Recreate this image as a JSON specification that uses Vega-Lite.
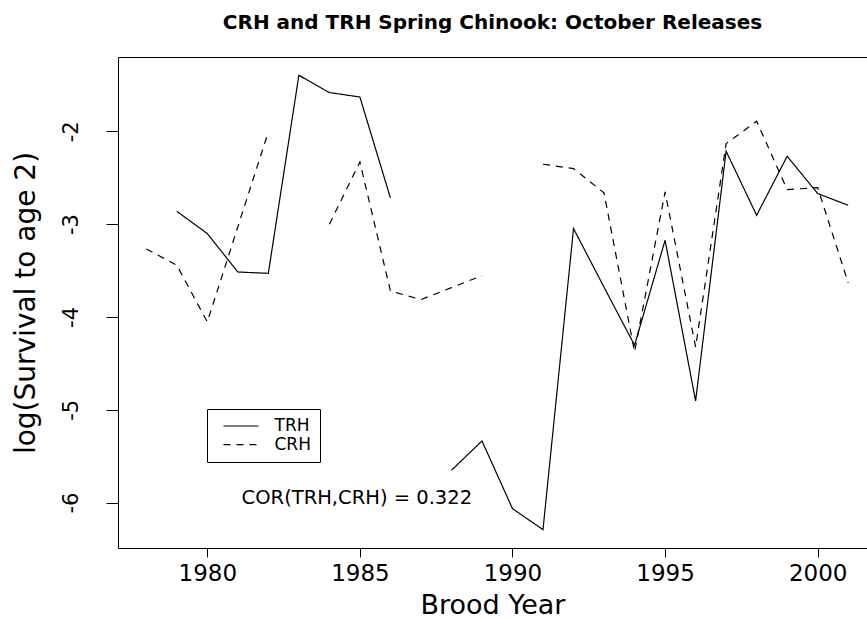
{
  "$schema": "https://vega.github.io/schema/vega-lite/v6.json",
  "width": 749,
  "height": 491,
  "autosize": {"type": "none"},
  "padding": {"left": 118, "top": 57, "right": 0, "bottom": 71},
  "background": "white",
  "config": {
    "view": {"stroke": null},
    "font": "DejaVu Sans",
    "axis": {
      "grid": false,
      "domainColor": "black",
      "tickColor": "black",
      "labelColor": "black",
      "titleColor": "black",
      "domainWidth": 1,
      "tickWidth": 1,
      "labelFont": "DejaVu Sans",
      "titleFont": "DejaVu Sans",
      "titleFontWeight": "normal"
    }
  },
  "title": {
    "text": "CRH and TRH Spring Chinook: October Releases",
    "font": "DejaVu Sans",
    "fontSize": 20,
    "fontWeight": "bold",
    "color": "black",
    "anchor": "middle",
    "frame": "group",
    "baseline": "alphabetic",
    "offset": 8
  },
  "layer": [
    {
      "data": {
        "values": [
          {"series": "TRH", "seg": "T1", "year": 1979, "value": -2.862},
          {"series": "TRH", "seg": "T1", "year": 1980, "value": -3.102},
          {"series": "TRH", "seg": "T1", "year": 1981, "value": -3.516},
          {"series": "TRH", "seg": "T1", "year": 1982, "value": -3.530},
          {"series": "TRH", "seg": "T1", "year": 1983, "value": -1.397},
          {"series": "TRH", "seg": "T1", "year": 1984, "value": -1.583},
          {"series": "TRH", "seg": "T1", "year": 1985, "value": -1.631},
          {"series": "TRH", "seg": "T1", "year": 1986, "value": -2.718},
          {"series": "TRH", "seg": "T2", "year": 1988, "value": -5.652},
          {"series": "TRH", "seg": "T2", "year": 1989, "value": -5.336},
          {"series": "TRH", "seg": "T2", "year": 1990, "value": -6.065},
          {"series": "TRH", "seg": "T2", "year": 1991, "value": -6.291},
          {"series": "TRH", "seg": "T2", "year": 1992, "value": -3.048},
          {"series": "TRH", "seg": "T2", "year": 1993, "value": -3.680},
          {"series": "TRH", "seg": "T2", "year": 1994, "value": -4.305},
          {"series": "TRH", "seg": "T2", "year": 1995, "value": -3.174},
          {"series": "TRH", "seg": "T2", "year": 1996, "value": -4.905},
          {"series": "TRH", "seg": "T2", "year": 1997, "value": -2.215},
          {"series": "TRH", "seg": "T2", "year": 1998, "value": -2.905},
          {"series": "TRH", "seg": "T2", "year": 1999, "value": -2.269},
          {"series": "TRH", "seg": "T2", "year": 2000, "value": -2.671},
          {"series": "TRH", "seg": "T2", "year": 2001, "value": -2.797},
          {"series": "CRH", "seg": "C1", "year": 1978, "value": -3.268},
          {"series": "CRH", "seg": "C1", "year": 1979, "value": -3.443},
          {"series": "CRH", "seg": "C1", "year": 1980, "value": -4.054},
          {"series": "CRH", "seg": "C1", "year": 1981, "value": -3.030},
          {"series": "CRH", "seg": "C1", "year": 1982, "value": -2.007},
          {"series": "CRH", "seg": "C2", "year": 1984, "value": -3.002},
          {"series": "CRH", "seg": "C2", "year": 1985, "value": -2.330},
          {"series": "CRH", "seg": "C2", "year": 1986, "value": -3.720},
          {"series": "CRH", "seg": "C2", "year": 1987, "value": -3.813},
          {"series": "CRH", "seg": "C2", "year": 1988, "value": -3.684},
          {"series": "CRH", "seg": "C2", "year": 1989, "value": -3.555},
          {"series": "CRH", "seg": "C3", "year": 1991, "value": -2.355},
          {"series": "CRH", "seg": "C3", "year": 1992, "value": -2.402},
          {"series": "CRH", "seg": "C3", "year": 1993, "value": -2.664},
          {"series": "CRH", "seg": "C3", "year": 1994, "value": -4.377},
          {"series": "CRH", "seg": "C3", "year": 1995, "value": -2.653},
          {"series": "CRH", "seg": "C3", "year": 1996, "value": -4.324},
          {"series": "CRH", "seg": "C3", "year": 1997, "value": -2.133},
          {"series": "CRH", "seg": "C3", "year": 1998, "value": -1.892},
          {"series": "CRH", "seg": "C3", "year": 1999, "value": -2.628},
          {"series": "CRH", "seg": "C3", "year": 2000, "value": -2.607},
          {"series": "CRH", "seg": "C3", "year": 2001, "value": -3.634}
        ]
      },
      "mark": {"type": "line", "color": "black", "strokeWidth": 1.2},
      "encoding": {
        "x": {
          "field": "year",
          "type": "quantitative",
          "scale": {"domain": [1977.074, 2001.616], "nice": false, "zero": false},
          "axis": {
            "orient": "bottom",
            "values": [1980, 1985, 1990, 1995, 2000],
            "format": "d",
            "tickSize": 9,
            "labelFontSize": 23,
            "labelPadding": 5,
            "labelFlush": false,
            "title": "Brood Year",
            "titleFontSize": 27,
            "titlePadding": 7
          }
        },
        "y": {
          "field": "value",
          "type": "quantitative",
          "scale": {"domain": [-6.489, -1.2], "nice": false, "zero": false},
          "axis": {
            "values": [-6, -5, -4, -3, -2],
            "tickSize": 12,
            "labelAngle": -90,
            "labelAlign": "center",
            "labelBaseline": "alphabetic",
            "labelPadding": 29,
            "labelFontSize": 21,
            "labelExpr": "datum.value < 0 ? '-' + format(-datum.value, 'd') : format(datum.value, 'd')",
            "title": "log(Survival to age 2)",
            "titleFontSize": 28,
            "titlePadding": 20
          }
        },
        "strokeDash": {
          "field": "series",
          "type": "nominal",
          "scale": {"domain": ["TRH", "CRH"], "range": [[1, 0], [7, 6]]},
          "legend": {
            "title": null,
            "orient": "none",
            "legendX": 89,
            "legendY": 352,
            "strokeColor": "black",
            "padding": 8.5,
            "symbolType": "M-2.5,0L2.5,0",
            "symbolSize": 196,
            "symbolOffset": 17,
            "symbolStrokeColor": "black",
            "symbolStrokeWidth": 1.2,
            "labelFont": "DejaVu Sans",
            "labelFontSize": 17,
            "labelColor": "black",
            "labelOffset": 25,
            "rowPadding": 0.7
          }
        },
        "detail": {"field": "seg", "type": "nominal"}
      }
    },
    {
      "data": {"values": [{}]},
      "mark": {
        "type": "text",
        "text": "COR(TRH,CRH) = 0.322",
        "font": "DejaVu Sans",
        "fontSize": 19.5,
        "color": "black",
        "align": "center",
        "baseline": "middle"
      },
      "encoding": {
        "x": {
          "datum": 1984.9,
          "type": "quantitative",
          "axis": {"orient": "top", "labels": false, "ticks": false, "domain": true, "title": null, "grid": false}
        },
        "y": {"datum": -5.95, "type": "quantitative"}
      }
    }
  ],
  "resolve": {"axis": {"x": "independent"}}
}
